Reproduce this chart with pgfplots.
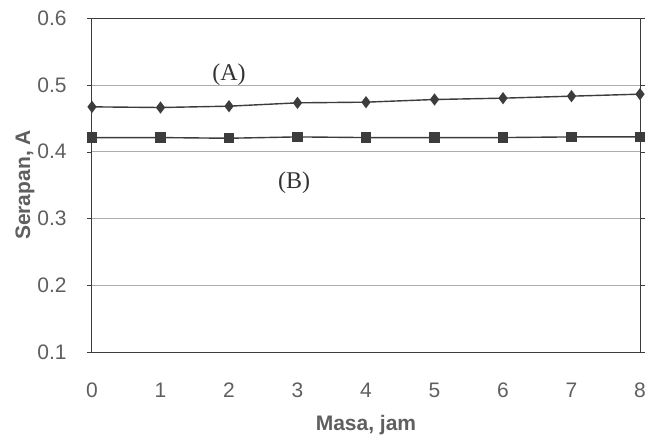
\documentclass[border=0pt]{standalone}
\usepackage{pgfplots}
\pgfplotsset{compat=1.18}
\usepackage{fontspec}
\setmainfont{Liberation Sans}
\newfontfamily\serifA{Liberation Serif}
\definecolor{txtgray}{RGB}{95,95,95}
\definecolor{linegray}{RGB}{60,60,60}
\begin{document}
\begin{tikzpicture}
\begin{axis}[
  name=ax,
  scale only axis, width=548pt, height=334pt,
  xmin=0, xmax=8, ymin=0.1, ymax=0.6,
  xtick={0,...,8}, ytick={0.1,0.2,...,0.6},
  yticklabel style={/pgf/number format/fixed,/pgf/number format/precision=1},
  /pgf/number format/assume math mode=true,
  ymajorgrids, grid style={gray!65, line width=0.6pt},
  major x tick style={draw=none},
  y tick style={linegray}, tick align=outside, major tick length=5pt,
  axis line style={linegray, line width=1pt},
  tick label style={font=\fontsize{21}{23}\selectfont, text=txtgray},
  xticklabel style={anchor=center, yshift=-33pt},
  yticklabel style={anchor=center, xshift=-35pt},
  xlabel={\textbf{Masa, jam}}, ylabel={\textbf{Serapan, A}},
  label style={font=\fontsize{21}{23}\selectfont, text=txtgray},
  xlabel style={at={(axis description cs:0.5,0)}, anchor=center, yshift=-73pt},
  ylabel style={at={(axis description cs:0,0.5)}, anchor=center, yshift=67pt},
  clip=false,
]
\addplot[linegray, line width=1.4pt, mark=diamond*, mark size=5pt, mark options={fill=linegray}]
 coordinates {(0,0.467)(1,0.466)(2,0.468)(3,0.473)(4,0.474)(5,0.478)(6,0.480)(7,0.483)(8,0.486)};
\addplot[linegray, line width=1.4pt, mark=square*, mark size=4.5pt, mark options={fill=linegray}]
 coordinates {(0,0.421)(1,0.421)(2,0.420)(3,0.422)(4,0.421)(5,0.421)(6,0.421)(7,0.422)(8,0.422)};
\node[font=\serifA\fontsize{24}{26}\selectfont, text=black!80] at (axis cs:2,0.515) {(A)};
\node[font=\serifA\fontsize{24}{26}\selectfont, text=black!80] at (axis cs:2.95,0.353) {(B)};
\end{axis}
\pgfresetboundingbox
\path ([xshift=-92pt,yshift=-88pt]ax.south west) rectangle ([xshift=7pt,yshift=18pt]ax.north east);
\end{tikzpicture}
\end{document}
